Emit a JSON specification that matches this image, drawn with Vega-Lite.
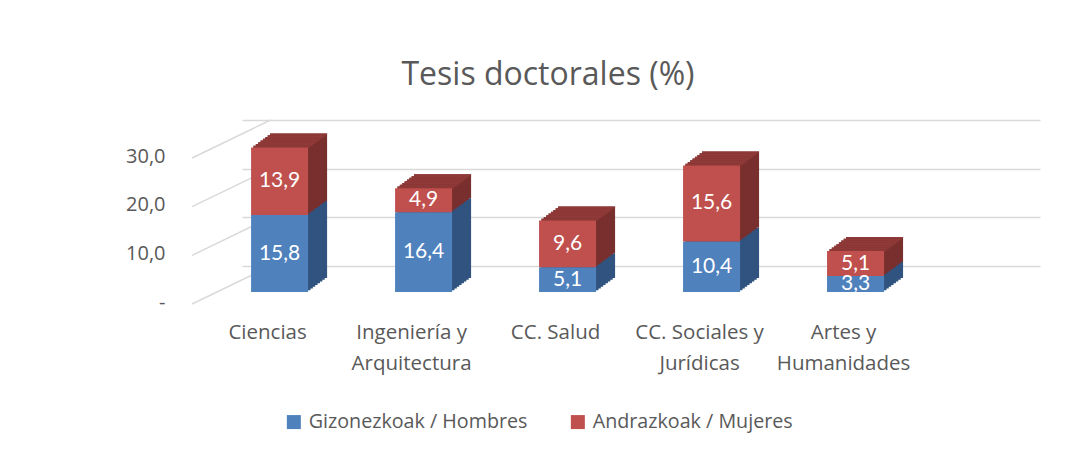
{
  "$schema": "https://vega.github.io/schema/vega-lite/v6.json",
  "autosize": {"type": "none"},
  "width": 798,
  "height": 146,
  "padding": {"left": 242, "top": 146, "right": 30, "bottom": 158},
  "background": "white",
  "title": {"text": "Tesis doctorales (%)", "fontSize": 32, "font": "Open Sans", "fontWeight": "normal", "color": "#595959", "anchor": "middle", "frame": "group", "dx": -93, "offset": 27},
  "data": {"values": [
    {"category": "Ciencias", "sex": "Gizonezkoak / Hombres", "value": 15.8},
    {"category": "Ciencias", "sex": "Andrazkoak / Mujeres", "value": 13.9},
    {"category": "Ingeniería y Arquitectura", "sex": "Gizonezkoak / Hombres", "value": 16.4},
    {"category": "Ingeniería y Arquitectura", "sex": "Andrazkoak / Mujeres", "value": 4.9},
    {"category": "CC. Salud", "sex": "Gizonezkoak / Hombres", "value": 5.1},
    {"category": "CC. Salud", "sex": "Andrazkoak / Mujeres", "value": 9.6},
    {"category": "CC. Sociales y Jurídicas", "sex": "Gizonezkoak / Hombres", "value": 10.4},
    {"category": "CC. Sociales y Jurídicas", "sex": "Andrazkoak / Mujeres", "value": 15.6},
    {"category": "Artes y Humanidades", "sex": "Gizonezkoak / Hombres", "value": 3.3},
    {"category": "Artes y Humanidades", "sex": "Andrazkoak / Mujeres", "value": 5.1}
  ]},
  "transform": [
    {"stack": "value", "groupby": ["category"], "sort": [{"field": "sex", "order": "descending"}], "as": ["y0", "y1"]},
    {"calculate": "(datum.y0 + datum.y1) / 2", "as": "mid"}
  ],
  "encoding": {
    "x": {"field": "category", "type": "nominal", "sort": null,
      "scale": {"paddingInner": 0.604, "paddingOuter": 0.573, "align": 0.055},
      "axis": {"title": null, "labelExpr": "indexof(datum.label, ' y ') > 0 ? [substring(datum.label, 0, indexof(datum.label, ' y ') + 2), substring(datum.label, indexof(datum.label, ' y ') + 3)] : datum.label"}},
    "y": {"field": "y1", "type": "quantitative", "scale": {"domain": [0, 30], "nice": false},
      "axis": {"title": null, "values": [0, 10, 20, 30], "format": ".1f", "labelExpr": "datum.value == 0 ? '-' : datum.label", "tickOffset": -26, "labelOffset": 36, "grid": true}}
  },
  "layer": [
    {"data": {"values": [{"y1": 0}, {"y1": 10}, {"y1": 20}, {"y1": 30}]},
      "mark": {"type": "rule", "color": "#D9D9D9", "strokeWidth": 1.5, "xOffset": -59, "x2Offset": -9, "yOffset": 12, "y2Offset": -26},
      "encoding": {
        "x": {"datum": "Ciencias", "type": "nominal", "bandPosition": 0,
          "axis": {"title": null, "labelExpr": "indexof(datum.label, ' y ') > 0 ? [substring(datum.label, 0, indexof(datum.label, ' y ') + 2), substring(datum.label, indexof(datum.label, ' y ') + 3)] : datum.label"}},
        "x2": {"datum": "Ciencias"},
        "y2": {"field": "y1"}}},
    {"mark": {"type": "bar", "xOffset": 19, "yOffset": -14, "y2Offset": -14}, "encoding": {"y2": {"field": "y0"}, "color": {"condition": {"test": "datum.sex == 'Gizonezkoak / Hombres'", "value": "#30537F"}, "value": "#782F2D"}}},
    {"mark": {"type": "bar", "xOffset": 16.625, "yOffset": -12.25, "y2Offset": -12.25}, "encoding": {"y2": {"field": "y0"}, "color": {"condition": {"test": "datum.sex == 'Gizonezkoak / Hombres'", "value": "#30537F"}, "value": "#782F2D"}}},
    {"mark": {"type": "bar", "xOffset": 14.25, "yOffset": -10.5, "y2Offset": -10.5}, "encoding": {"y2": {"field": "y0"}, "color": {"condition": {"test": "datum.sex == 'Gizonezkoak / Hombres'", "value": "#30537F"}, "value": "#782F2D"}}},
    {"mark": {"type": "bar", "xOffset": 11.875, "yOffset": -8.75, "y2Offset": -8.75}, "encoding": {"y2": {"field": "y0"}, "color": {"condition": {"test": "datum.sex == 'Gizonezkoak / Hombres'", "value": "#30537F"}, "value": "#782F2D"}}},
    {"mark": {"type": "bar", "xOffset": 9.5, "yOffset": -7, "y2Offset": -7}, "encoding": {"y2": {"field": "y0"}, "color": {"condition": {"test": "datum.sex == 'Gizonezkoak / Hombres'", "value": "#30537F"}, "value": "#782F2D"}}},
    {"mark": {"type": "bar", "xOffset": 7.125, "yOffset": -5.25, "y2Offset": -5.25}, "encoding": {"y2": {"field": "y0"}, "color": {"condition": {"test": "datum.sex == 'Gizonezkoak / Hombres'", "value": "#30537F"}, "value": "#782F2D"}}},
    {"mark": {"type": "bar", "xOffset": 4.75, "yOffset": -3.5, "y2Offset": -3.5}, "encoding": {"y2": {"field": "y0"}, "color": {"condition": {"test": "datum.sex == 'Gizonezkoak / Hombres'", "value": "#30537F"}, "value": "#782F2D"}}},
    {"mark": {"type": "bar", "xOffset": 2.375, "yOffset": -1.75, "y2Offset": -1.75}, "encoding": {"y2": {"field": "y0"}, "color": {"condition": {"test": "datum.sex == 'Gizonezkoak / Hombres'", "value": "#30537F"}, "value": "#782F2D"}}},
    {"transform": [{"filter": "datum.sex == 'Andrazkoak / Mujeres'"}], "mark": {"type": "bar", "color": "#8F3A38", "xOffset": 19, "yOffset": -14, "y2Offset": -12.25}, "encoding": {"y2": {"field": "y1"}}},
    {"transform": [{"filter": "datum.sex == 'Andrazkoak / Mujeres'"}], "mark": {"type": "bar", "color": "#8F3A38", "xOffset": 16.625, "yOffset": -12.25, "y2Offset": -10.5}, "encoding": {"y2": {"field": "y1"}}},
    {"transform": [{"filter": "datum.sex == 'Andrazkoak / Mujeres'"}], "mark": {"type": "bar", "color": "#8F3A38", "xOffset": 14.25, "yOffset": -10.5, "y2Offset": -8.75}, "encoding": {"y2": {"field": "y1"}}},
    {"transform": [{"filter": "datum.sex == 'Andrazkoak / Mujeres'"}], "mark": {"type": "bar", "color": "#8F3A38", "xOffset": 11.875, "yOffset": -8.75, "y2Offset": -7}, "encoding": {"y2": {"field": "y1"}}},
    {"transform": [{"filter": "datum.sex == 'Andrazkoak / Mujeres'"}], "mark": {"type": "bar", "color": "#8F3A38", "xOffset": 9.5, "yOffset": -7, "y2Offset": -5.25}, "encoding": {"y2": {"field": "y1"}}},
    {"transform": [{"filter": "datum.sex == 'Andrazkoak / Mujeres'"}], "mark": {"type": "bar", "color": "#8F3A38", "xOffset": 7.125, "yOffset": -5.25, "y2Offset": -3.5}, "encoding": {"y2": {"field": "y1"}}},
    {"transform": [{"filter": "datum.sex == 'Andrazkoak / Mujeres'"}], "mark": {"type": "bar", "color": "#8F3A38", "xOffset": 4.75, "yOffset": -3.5, "y2Offset": -1.75}, "encoding": {"y2": {"field": "y1"}}},
    {"transform": [{"filter": "datum.sex == 'Andrazkoak / Mujeres'"}], "mark": {"type": "bar", "color": "#8F3A38", "xOffset": 2.375, "yOffset": -1.75, "y2Offset": 0}, "encoding": {"y2": {"field": "y1"}}},
    {"mark": {"type": "bar"}, "encoding": {"y2": {"field": "y0"},
      "color": {"field": "sex", "type": "nominal",
        "scale": {"domain": ["Gizonezkoak / Hombres", "Andrazkoak / Mujeres"], "range": ["#4F81BD", "#C0504D"]},
        "legend": {"orient": "none", "legendX": 42, "legendY": 266, "direction": "horizontal", "title": null, "symbolType": "square", "symbolSize": 196, "symbolStrokeWidth": 0, "labelFontSize": 19.7, "labelColor": "#595959", "labelFont": "Open Sans", "columnPadding": 40, "labelOffset": 5, "labelLimit": 400}}}},
    {"mark": {"type": "text", "color": "white", "fontSize": 21, "font": "Lato", "baseline": "middle"},
      "encoding": {"y": {"field": "mid", "type": "quantitative",
        "axis": {"title": null, "values": [0, 10, 20, 30], "format": ".1f", "labelExpr": "datum.value == 0 ? '-' : datum.label", "tickOffset": -26, "labelOffset": 36, "grid": true}},
        "text": {"field": "value", "type": "quantitative", "format": ".1f"}}}
  ],
  "config": {
    "font": "Open Sans",
    "view": {"stroke": null},
    "locale": {"number": {"decimal": ",", "thousands": ".", "grouping": [3], "currency": ["", " €"]}},
    "axisY": {"gridColor": "#D9D9D9", "gridWidth": 1.5, "domain": false, "ticks": false, "labelPadding": 77, "labelFontSize": 20, "labelColor": "#595959", "labelFont": "Open Sans"},
    "axisX": {"domain": false, "ticks": false, "grid": false, "labelFontSize": 20.5, "labelColor": "#595959", "labelFont": "Open Sans", "labelPadding": 30, "labelOffset": -12, "labelLineHeight": 31, "labelAngle": 0}
  }
}
